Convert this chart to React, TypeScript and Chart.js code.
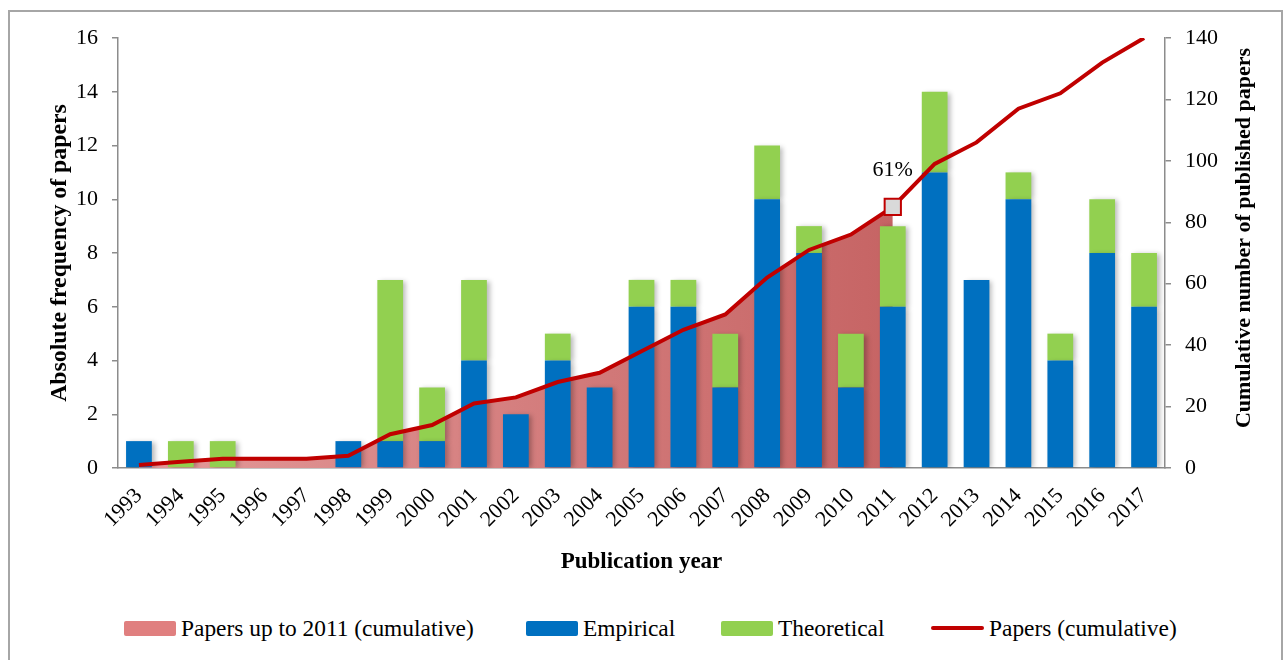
import React, { useEffect, useRef } from 'react';
import { Chart, registerables } from 'chart.js';

Chart.register(...registerables);

const years = ['1993', '1994', '1995', '1996', '1997', '1998', '1999', '2000', '2001', '2002', '2003', '2004', '2005', '2006', '2007', '2008', '2009', '2010', '2011', '2012', '2013', '2014', '2015', '2016', '2017'];
const empirical = [1, 0, 0, 0, 0, 1, 1, 1, 4, 2, 4, 3, 6, 6, 3, 10, 8, 3, 6, 11, 7, 10, 4, 8, 6];
const theoretical = [0, 1, 1, 0, 0, 0, 6, 2, 3, 0, 1, 0, 1, 1, 2, 2, 1, 2, 3, 3, 0, 1, 1, 2, 2];
const cumulative = [1, 2, 3, 3, 3, 4, 11, 14, 21, 23, 28, 31, 38, 45, 50, 62, 71, 76, 85, 99, 106, 117, 122, 132, 140];
const cumulativeUpTo2011 = [1, 2, 3, 3, 3, 4, 11, 14, 21, 23, 28, 31, 38, 45, 50, 62, 71, 76, 85, null, null, null, null, null, null];
const highlightYear = '2011';
const highlightLabel = '61%';
const leftAxisMax = 16;
const leftAxisStep = 2;
const rightAxisMax = 140;
const rightAxisStep = 20;

const legendItems = [
  { label: 'Papers up to 2011 (cumulative)', kind: 'box', color: '#e07f7f', left: 124 },
  { label: 'Empirical', kind: 'box', color: '#0070c0', left: 526 },
  { label: 'Theoretical', kind: 'box', color: '#92d050', left: 721 },
  { label: 'Papers (cumulative)', kind: 'line', color: '#c00000', left: 931 },
];

const FONT = '"Liberation Serif", "Times New Roman", serif';
const AXIS_GRAY = '#8c8c8c';

const barShadow = {
  id: 'barShadow',
  beforeDatasetDraw(chart: any, args: any) {
    const ds = chart.data.datasets[args.index];
    if (ds.type === 'bar') {
      const c = chart.ctx;
      c.save();
      c.shadowColor = 'rgba(0,0,0,0.28)';
      c.shadowBlur = 5;
      c.shadowOffsetX = 3;
      c.shadowOffsetY = 1;
    }
  },
  afterDatasetDraw(chart: any, args: any) {
    const ds = chart.data.datasets[args.index];
    if (ds.type === 'bar') chart.ctx.restore();
  },
};

const extraText = {
  id: 'extraText',
  afterDraw(chart: any) {
    const c = chart.ctx;
    const idx = years.indexOf(highlightYear);
    const meta = chart.getDatasetMeta(0);
    const pt = meta.data[idx];
    c.save();
    c.fillStyle = '#000';
    c.font = `22px ${FONT}`;
    c.textAlign = 'center';
    c.textBaseline = 'middle';
    if (pt) c.fillText(highlightLabel, pt.x, pt.y - 37);
    // right axis title, reading bottom-to-top
    c.font = `bold 22px ${FONT}`;
    c.translate(1244, 238);
    c.rotate(-Math.PI / 2);
    c.fillText('Cumulative number of published papers', 0, 0);
    c.restore();
  },
};

export default function App() {
  const ref = useRef<HTMLCanvasElement | null>(null);

  useEffect(() => {
    if (!ref.current) return;
    const idx = years.indexOf(highlightYear);
    const chart = new Chart(ref.current, {
      type: 'bar',
      data: {
        labels: years,
        datasets: [
          {
            type: 'line',
            label: 'Papers (cumulative)',
            data: cumulative,
            yAxisID: 'y1',
            borderColor: '#c00000',
            borderWidth: 4,
            tension: 0,
            fill: false,
            pointStyle: 'rect',
            pointRadius: years.map((_, i) => (i === idx ? 11.5 : 0)),
            pointBackgroundColor: '#d9d9d9',
            pointBorderColor: '#c00000',
            pointBorderWidth: 2,
            order: 0,
          } as any,
          {
            type: 'bar',
            label: 'Empirical',
            data: empirical,
            yAxisID: 'y',
            backgroundColor: '#0070c0',
            barPercentage: 0.615,
            categoryPercentage: 1,
            order: 1,
          },
          {
            type: 'bar',
            label: 'Theoretical',
            data: theoretical,
            yAxisID: 'y',
            backgroundColor: '#92d050',
            barPercentage: 0.615,
            categoryPercentage: 1,
            order: 1,
          },
          {
            type: 'line',
            label: 'Papers up to 2011 (cumulative)',
            data: cumulativeUpTo2011,
            yAxisID: 'y1',
            borderWidth: 0,
            borderColor: 'rgba(0,0,0,0)',
            pointRadius: 0,
            tension: 0,
            fill: 'origin',
            spanGaps: false,
            backgroundColor: (ctx: any) => {
              const { chart } = ctx;
              const ca = chart.chartArea;
              if (!ca) return '#d98080';
              const g = chart.ctx.createLinearGradient(ca.left, 0, ca.left + (ca.right - ca.left) * 0.74, 0);
              g.addColorStop(0, '#e49b9b');
              g.addColorStop(1, '#c66464');
              return g;
            },
            order: 3,
          } as any,
        ],
      },
      options: {
        responsive: false,
        animation: false,
        layout: { padding: { top: 38, left: 0, right: 0, bottom: 0 } },
        plugins: {
          legend: { display: false },
          tooltip: { enabled: false },
        },
        scales: {
          x: {
            stacked: true,
            offset: true,
            grid: { display: false, drawTicks: false },
            border: { display: true, color: AXIS_GRAY, width: 1.5 },
            ticks: {
              color: '#000',
              font: { family: FONT, size: 22 },
              maxRotation: 45,
              minRotation: 45,
              padding: 15,
              autoSkip: false,
            },
            title: {
              display: true,
              text: 'Publication year',
              color: '#000',
              font: { family: FONT, size: 23, weight: 'bold' },
              padding: { top: 0, bottom: 4 },
            },
            afterFit: (s: any) => {
              s.height = 112;
              s.paddingLeft = 0;
              s.paddingRight = 0;
            },
          },
          y: {
            stacked: true,
            position: 'left',
            min: 0,
            max: leftAxisMax,
            ticks: {
              stepSize: leftAxisStep,
              color: '#000',
              font: { family: FONT, size: 22 },
              padding: 14,
            },
            grid: { drawOnChartArea: false, drawTicks: true, tickLength: 6, color: AXIS_GRAY, lineWidth: 1.5 },
            border: { display: true, color: AXIS_GRAY, width: 1.5 },
            title: {
              display: true,
              text: 'Absolute frequency of papers',
              color: '#000',
              font: { family: FONT, size: 23.8, weight: 'bold' },
              padding: { top: 46, bottom: 0 },
            },
            afterFit: (s: any) => {
              s.width = 118;
              s.paddingTop = 0;
              s.paddingBottom = 0;
            },
          },
          y1: {
            stacked: false,
            position: 'right',
            min: 0,
            max: rightAxisMax,
            ticks: {
              stepSize: rightAxisStep,
              color: '#000',
              font: { family: FONT, size: 22 },
              padding: 14,
            },
            grid: { drawOnChartArea: false, drawTicks: true, tickLength: 6, color: AXIS_GRAY, lineWidth: 1.5 },
            border: { display: true, color: AXIS_GRAY, width: 1.5 },
            afterFit: (s: any) => {
              s.width = 123;
              s.paddingTop = 0;
              s.paddingBottom = 0;
            },
          },
        },
      } as any,
      plugins: [barShadow, extraText],
    });
    return () => chart.destroy();
  }, []);

  return (
    <div style={{ position: 'fixed', left: 0, top: 0, width: 1288, height: 660, overflow: 'hidden', background: '#fff' }}>
      <div
        style={{
          position: 'absolute',
          left: 8,
          top: 10,
          width: 1275,
          height: 700,
          border: '2px solid #a6a6a6',
          boxSizing: 'border-box',
        }}
      />
      <canvas ref={ref} width={1288} height={580} style={{ position: 'absolute', left: 0, top: 0 }} />
      {legendItems.map((it) => (
        <div
          key={it.label}
          style={{ position: 'absolute', left: it.left, top: 612, height: 32, display: 'flex', alignItems: 'center', whiteSpace: 'nowrap' }}
        >
          {it.kind === 'box' ? (
            <div style={{ width: 52, height: 15, background: it.color, borderRadius: 2 }} />
          ) : (
            <div style={{ width: 53, height: 4, background: it.color, borderRadius: 2 }} />
          )}
          <span style={{ marginLeft: 5, fontFamily: FONT, fontSize: 23.4, color: '#000', lineHeight: '32px' }}>{it.label}</span>
        </div>
      ))}
    </div>
  );
}
